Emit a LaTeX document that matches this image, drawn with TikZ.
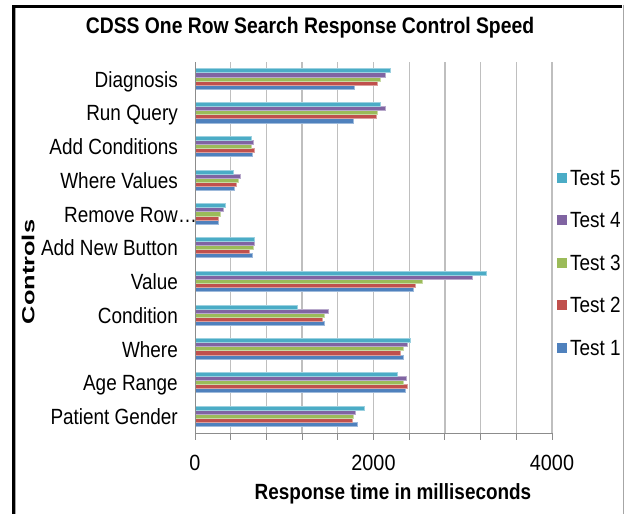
\documentclass[tikz,border=0pt]{standalone}
\usepackage{fontspec}
\newfontfamily\chartfont[FakeStretch=0.86]{Liberation Sans}
\newfontfamily\tickfont[FakeStretch=0.9]{Liberation Sans}
\newfontfamily\ctrlfont[FakeStretch=1.45]{Liberation Sans}
\definecolor{tone1}{HTML}{4F81BD}
\definecolor{tone2}{HTML}{C0504D}
\definecolor{tone3}{HTML}{9BBB59}
\definecolor{tone4}{HTML}{8064A2}
\definecolor{tone5}{HTML}{4BACC6}
\begin{document}
\begin{tikzpicture}[x=1pt,y=-1pt,
  lab/.style={font=\chartfont\fontsize{22}{22}\selectfont,inner sep=0pt,anchor=base east},
  ticklab/.style={font=\tickfont\fontsize{22}{22}\selectfont,inner sep=0pt,anchor=base},
  gridline/.style={black!25,line width=1.3pt},
  axisline/.style={black!45,line width=1pt}]
\useasboundingbox (0,0) rectangle (627,514);
\fill[white] (0,0) rectangle (627,514);
\draw[line width=2.5pt] (12,6.5) -- (622,6.5);
\draw[line width=3pt] (13,5.3) -- (13,514);
\draw[black!35,line width=0.8pt] (15.5,8) -- (15.5,514);
\draw[black!35,line width=0.8pt] (623,5.3) -- (623,514);
\node (title) at (310,33)[anchor=base,inner sep=0pt,font=\chartfont\fontsize{22.5}{22.5}\selectfont\bfseries]{CDSS One Row Search Response Control Speed};
\foreach \k in {1,...,10}
  \draw[gridline] ({195+\k*35.7},62) -- ({195+\k*35.7},433);
\foreach \i/\a/\b/\c/\d/\e in {0/1788/2045/2071/2134/2186,1/1773/2034/2045/2134/2071,
    2/637/667/626/652/626,3/443/458/480/510/428,4/264/261/287/317/339,
    5/637/611/648/667/663,6/2447/2473/2547/3102/3259,7/1453/1423/1449/1490/1143,
    8/2328/2302/2328/2380/2417,9/2354/2380/2328/2369/2264,10/1814/1758/1773/1799/1892}
  \foreach \v [count=\j] in {\a,\b,\c,\d,\e}
    \fill[tone\j,draw=tone\j!55!white,line width=0.5pt]
      (195,{62+33.73*(\i+0.5)-10.2+(5-\j)*4.08}) rectangle ({195+\v*0.08925},{62+33.73*(\i+0.5)-10.2+(6-\j)*4.08});
\draw[axisline] (195,62) -- (195,433) -- (552,433);
\foreach \k in {0,...,10}
  \draw[axisline] ({195+\k*35.7},433) -- ({195+\k*35.7},440);
\foreach \t [count=\i from 0] in {Diagnosis,Run Query,Add Conditions,Where Values,Remove Row,Add New Button,Value,Condition,Where,Age Range,Patient Gender}
  \node (cat\i) at (178,{62+33.73*(\i+0.5)+8.3})[lab]{\t};
\node (dots) at (cat4.base east)[lab,anchor=base west]{…};
\node (zero) at (195,470.7)[ticklab]{0};
\node (twok) at (373.5,470.7)[ticklab]{2000};
\node (fourk) at (552,470.7)[ticklab]{4000};
\node (xtitle) at (393,499.3)[anchor=base,inner sep=0pt,font=\chartfont\fontsize{22}{22}\selectfont\bfseries]{Response time in milliseconds};
\node (ytitle) at (28,272)[rotate=90,inner sep=0pt,font=\ctrlfont\fontsize{17.5}{17.5}\selectfont\bfseries]{Controls};
\foreach \j in {1,...,5}{
  \fill[tone\j] (557,{355-(\j-1)*42.5-12.5}) rectangle (567,{355-(\j-1)*42.5-2.5});
  \node (leg\j) at (570,{355-(\j-1)*42.5})[lab,anchor=base west]{Test \j};
}
\end{tikzpicture}
\end{document}
